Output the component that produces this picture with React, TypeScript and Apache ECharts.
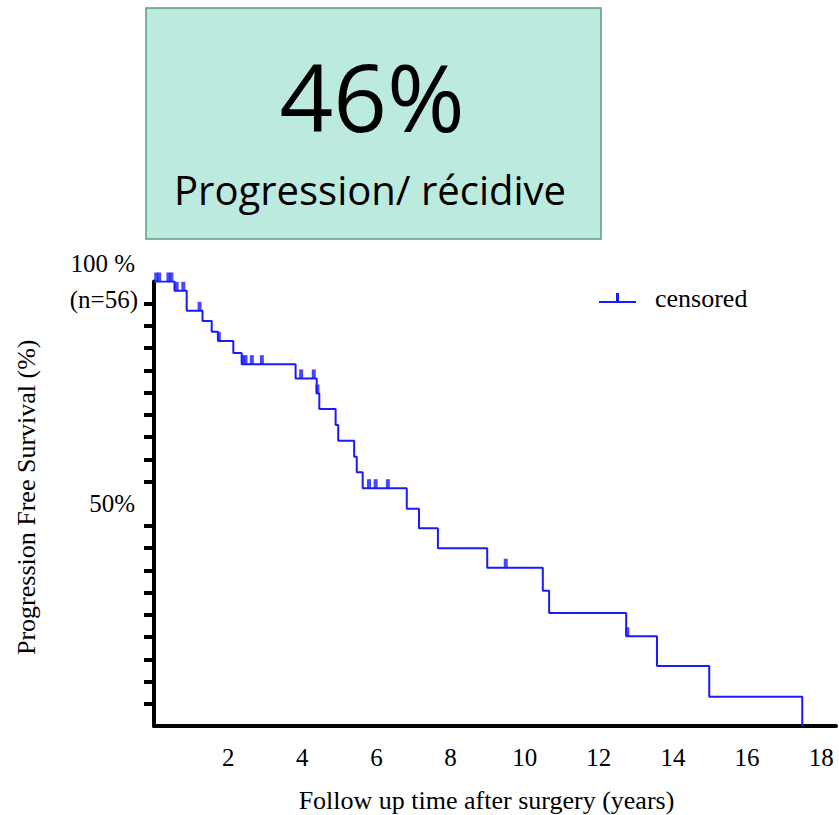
import React, { useEffect, useRef } from 'react';
import * as echarts from 'echarts';

// Kaplan-Meier step points: time (years) at which survival drops to the given level
const eventTimes = [0, 0.553, 0.882, 1.309, 1.557, 1.727, 2.14, 2.366, 3.82, 4.39, 4.46, 4.9, 4.97, 5.4, 5.47, 5.63, 6.82, 7.15, 7.66, 8.99, 10.49, 10.66, 12.74, 13.57, 14.98, 17.49];
const survival = [100, 97.9, 93.4, 91.1, 88.7, 86.6, 83.9, 81.4, 78.2, 74.8, 71.3, 67.7, 64.2, 60.6, 57.1, 53.5, 48.9, 44.5, 40.0, 35.6, 30.4, 25.4, 20.2, 13.5, 6.6, 0];

// censored observations
const censorTimes = [0.06, 0.14, 0.39, 0.47, 0.61, 0.79, 1.23, 1.75, 2.4, 2.47, 2.64, 2.91, 3.97, 4.31, 4.41, 5.8, 5.98, 6.31, 9.49, 12.77];
const censorSurvival = [100, 100, 100, 100, 97.9, 97.9, 93.4, 86.6, 81.4, 81.4, 81.4, 81.4, 78.2, 78.2, 74.8, 53.5, 53.5, 53.5, 35.6, 20.2];

const xTickLabels = [2, 4, 6, 8, 10, 12, 14, 16, 18];
const yTickValues = [5, 10, 15, 20, 25, 30, 35, 40, 45, 55, 60, 65, 70, 75, 80, 85, 90, 95];
const yLabelValues = [50, 100];

const headlineValue = '46%';
const headlineText = 'Progression/ récidive';

const BLUE = '#1a1aff';
const SERIF = '"Liberation Serif", "Times New Roman", serif';
const SANS = '"Open Sans", "Noto Sans", sans-serif';

export default function App() {
  const ref = useRef<HTMLDivElement>(null);
  useEffect(() => {
    if (!ref.current) return;
    const chart = echarts.init(ref.current, null, { renderer: 'svg' });
    const kmData = eventTimes.map((t, i) => [t, survival[i]]);
    const censorData = censorTimes.map((t, i) => [t, censorSurvival[i]]);
    chart.setOption({
      animation: false,
      backgroundColor: '#ffffff',
      grid: { left: 154, top: 281.5, right: 3, bottom: 89, containLabel: false, outerBoundsMode: 'none' },
      legend: {
        left: 594,
        top: 280,
        itemWidth: 37,
        itemHeight: 10,
        textStyle: { fontFamily: SERIF, fontSize: 26, color: '#000', padding: [0, 0, 0, 14] },
        data: [
          {
            name: 'censored',
            icon: 'path://M0,8L37,8L37,10L0,10Z M17,0L20,0L20,8L17,8Z',
            itemStyle: { color: BLUE },
          },
        ],
      },
      xAxis: {
        type: 'value',
        min: 0,
        max: 18.4,
        interval: 2,
        name: 'Follow up time after surgery (years)',
        nameLocation: 'middle',
        nameGap: 61,
        nameTextStyle: { fontFamily: SERIF, fontSize: 26, color: '#000', padding: [0, 17, 0, 0] },
        axisLine: { show: true, lineStyle: { color: '#000', width: 4 } },
        axisTick: { show: false },
        splitLine: { show: false },
        axisLabel: {
          customValues: xTickLabels,
          fontFamily: SERIF,
          fontSize: 25,
          color: '#000',
          margin: 19,
        },
      },
      yAxis: {
        type: 'value',
        min: 0,
        max: 100,
        interval: 5,
        name: 'Progression Free Survival (%)',
        nameLocation: 'middle',
        nameGap: 115,
        nameTextStyle: { fontFamily: SERIF, fontSize: 26, color: '#000', padding: [0, 0, 0, 13] },
        axisLine: { show: true, lineStyle: { color: '#000', width: 4 } },
        axisTick: {
          show: true,
          customValues: yTickValues,
          length: 10,
          lineStyle: { color: '#000', width: 4 },
        },
        splitLine: { show: false },
        axisLabel: {
          customValues: yLabelValues,
          margin: 16,
          fontFamily: SERIF,
          fontSize: 25,
          color: '#000',
          formatter: (v: number) => (v === 100 ? '{a|100 %}\n{b|(n=56)}' : '{c|' + v + '%}'),
          rich: {
            a: { fontFamily: SERIF, fontSize: 25, color: '#000', padding: [0, 3, 0, 0], lineHeight: 36 },
            b: { fontFamily: SERIF, fontSize: 25, color: '#000', lineHeight: 36 },
            c: { fontFamily: SERIF, fontSize: 25, color: '#000', padding: [0, 3, 0, 0] },
          },
        },
      },
      series: [
        {
          name: 'censored',
          type: 'line',
          step: 'end',
          data: kmData,
          showSymbol: false,
          symbol: 'none',
          lineStyle: { color: BLUE, width: 2 },
          itemStyle: { color: BLUE },
          z: 3,
        },
        {
          name: 'censored',
          type: 'scatter',
          data: censorData,
          symbol: 'rect',
          symbolSize: [4, 9],
          symbolOffset: [0, -4.5],
          itemStyle: { color: BLUE },
          z: 4,
        },
      ],
      graphic: [
        {
          type: 'rect',
          shape: { x: 146, y: 8, width: 455, height: 231 },
          style: { fill: '#bdeadf', stroke: '#5b9b83', lineWidth: 1.5 },
        },
        {
          type: 'text',
          x: 372,
          y: 96,
          style: {
            text: headlineValue,
            fontFamily: SANS,
            fontSize: 94,
            fill: '#000',
            align: 'center',
            verticalAlign: 'middle',
          },
        },
        {
          type: 'text',
          x: 370,
          y: 189,
          style: {
            text: headlineText,
            fontFamily: SANS,
            fontSize: 40,
            fill: '#000',
            align: 'center',
            verticalAlign: 'middle',
          },
        },
      ],
    });
    return () => chart.dispose();
  }, []);
  return (
    <div
      ref={ref}
      style={{ position: 'fixed', left: 0, top: 0, width: 839, height: 815, background: '#fff' }}
    />
  );
}
